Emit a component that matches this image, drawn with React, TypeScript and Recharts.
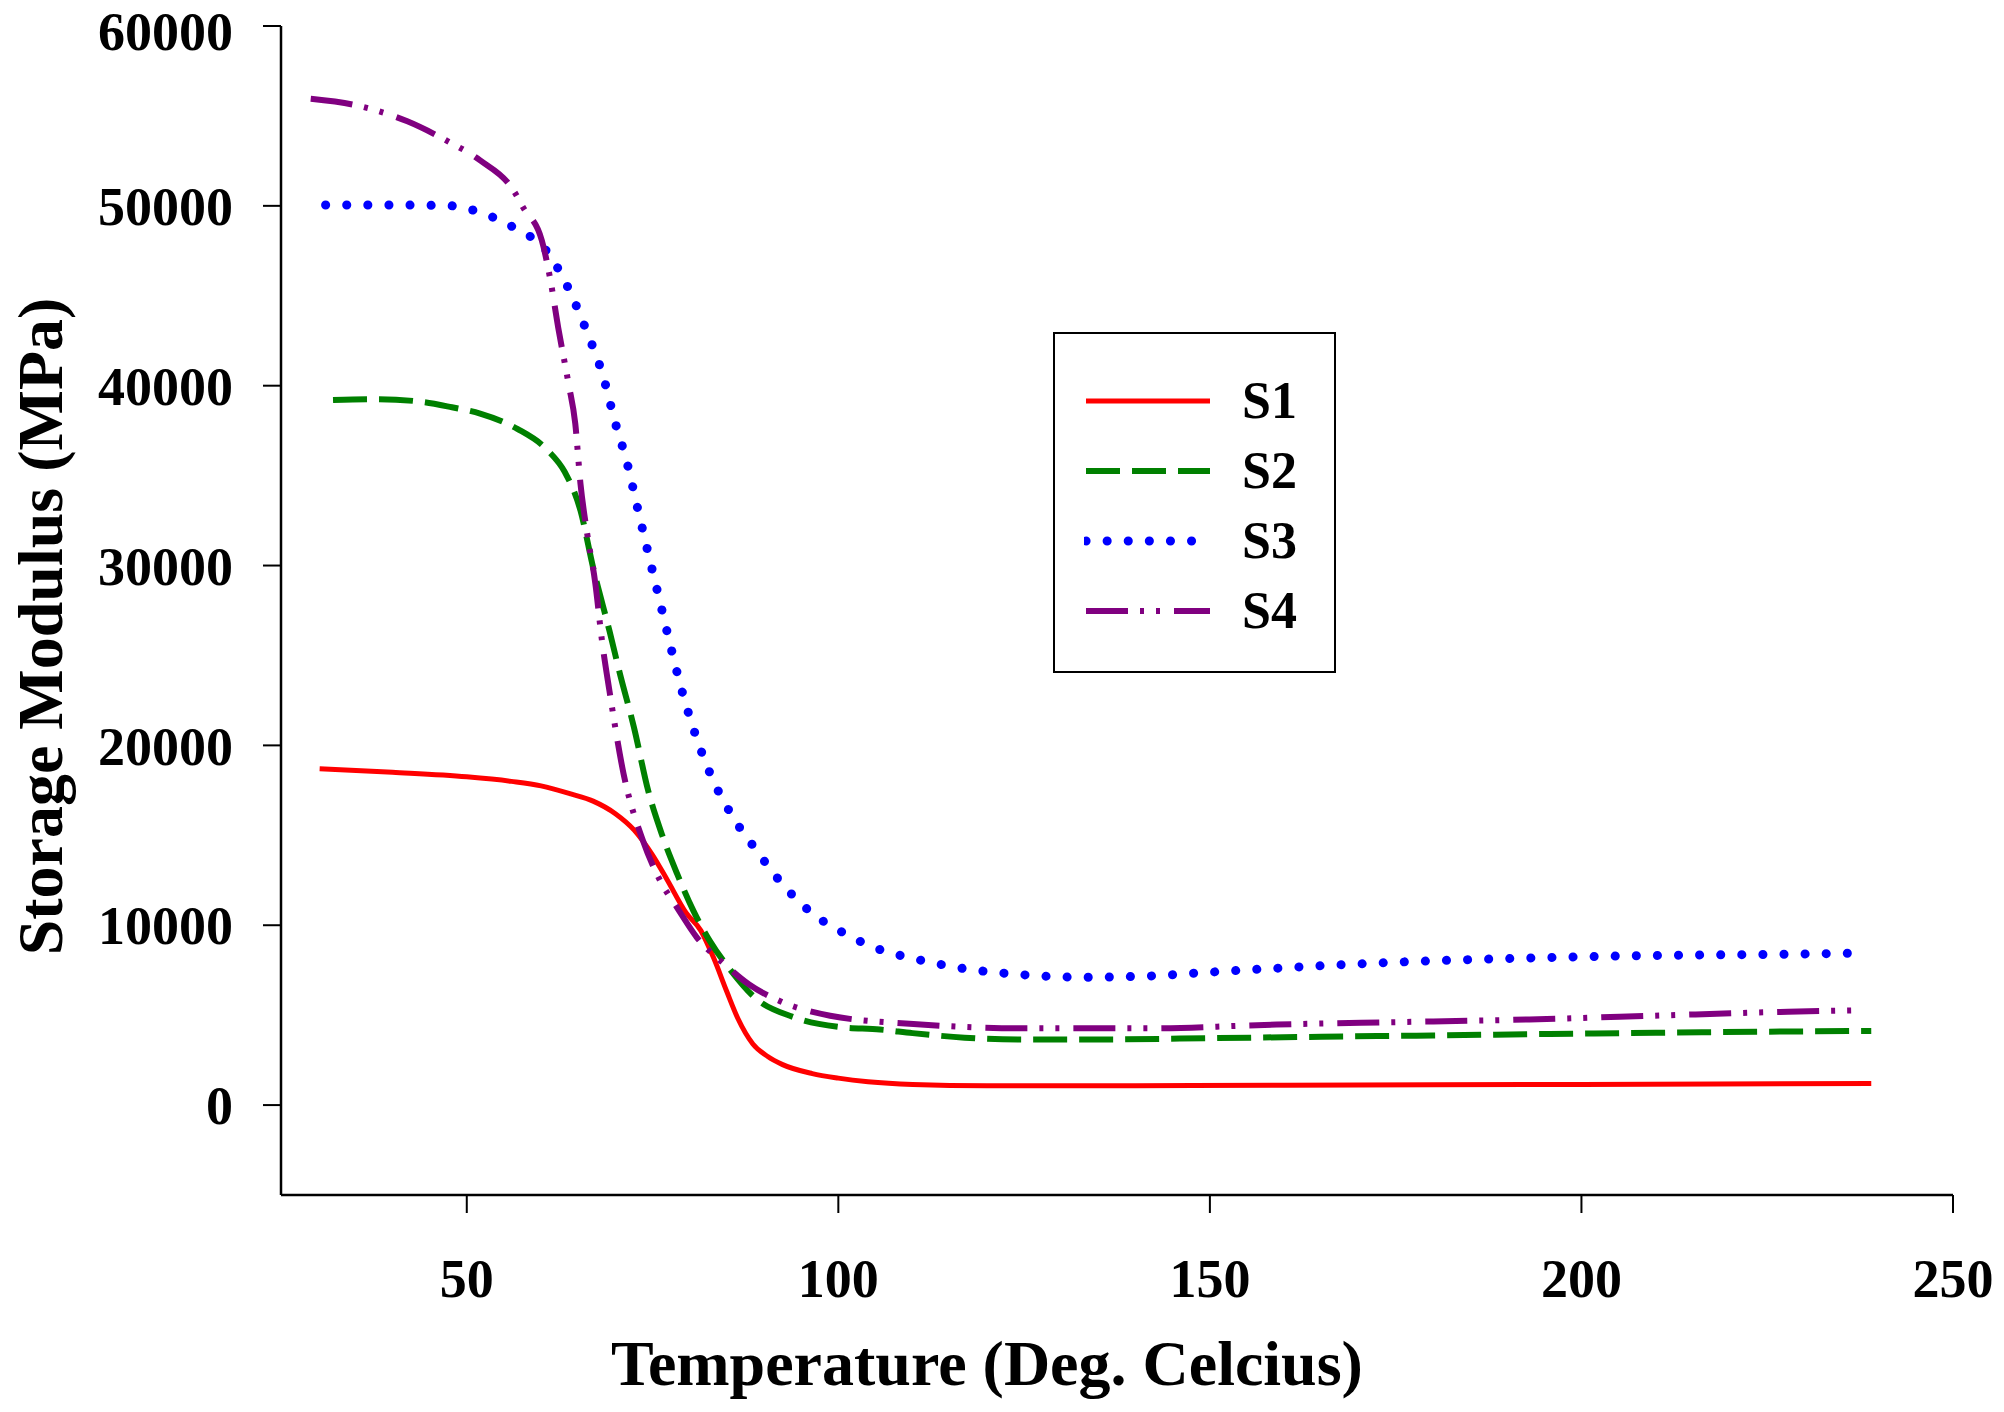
import { LineChart, Line, XAxis, YAxis, Legend, Label } from 'recharts';

// storage modulus (MPa) vs temperature (deg C)
const s1 = [
    { t: 30.2, e: 18700 }, { t: 40, e: 18500 }, { t: 50, e: 18250 }, { t: 56, e: 18000 },
    { t: 60, e: 17750 }, { t: 64, e: 17300 }, { t: 67, e: 16900 }, { t: 70, e: 16200 },
    { t: 72.5, e: 15300 }, { t: 75, e: 13900 }, { t: 77, e: 12500 }, { t: 79.5, e: 10700 },
    { t: 81.5, e: 9700 }, { t: 83.2, e: 8200 }, { t: 85, e: 6300 }, { t: 86.5, e: 4800 },
    { t: 88.5, e: 3400 }, { t: 90.5, e: 2700 }, { t: 92.5, e: 2250 }, { t: 96.5, e: 1750 },
    { t: 100, e: 1500 }, { t: 104, e: 1300 }, { t: 110, e: 1150 }, { t: 120, e: 1080 },
    { t: 140, e: 1080 }, { t: 160, e: 1100 }, { t: 200, e: 1150 }, { t: 239, e: 1200 },
];

const s2 = [
    { t: 32, e: 39200 }, { t: 38, e: 39250 }, { t: 44, e: 39100 }, { t: 48, e: 38800 },
    { t: 51.8, e: 38450 }, { t: 56.8, e: 37600 }, { t: 60.9, e: 36400 }, { t: 63.2, e: 35190 },
    { t: 65.3, e: 33060 }, { t: 67, e: 29890 }, { t: 69.2, e: 26370 }, { t: 70.6, e: 24000 },
    { t: 72.5, e: 21000 }, { t: 74.4, e: 17500 }, { t: 76.3, e: 15000 }, { t: 78.3, e: 12870 },
    { t: 80.5, e: 10800 }, { t: 82.7, e: 9130 }, { t: 85.5, e: 7500 }, { t: 88.7, e: 6000 },
    { t: 93.9, e: 4900 }, { t: 100, e: 4350 }, { t: 105.6, e: 4200 }, { t: 110, e: 4000 },
    { t: 117, e: 3750 }, { t: 125, e: 3650 }, { t: 135, e: 3650 }, { t: 150, e: 3720 },
    { t: 165, e: 3800 }, { t: 180, e: 3870 }, { t: 195, e: 3950 }, { t: 210, e: 4020 },
    { t: 225, e: 4080 }, { t: 239, e: 4120 },
];

const s3 = [
    { t: 31, e: 50050 }, { t: 40, e: 50050 }, { t: 48, e: 50000 }, { t: 51.8, e: 49630 },
    { t: 56.3, e: 48800 }, { t: 60.9, e: 47400 }, { t: 63.7, e: 45390 }, { t: 66.2, e: 42960 },
    { t: 68.4, e: 40450 }, { t: 69.9, e: 38060 }, { t: 71.6, e: 35660 }, { t: 73, e: 33160 },
    { t: 74.4, e: 30710 }, { t: 75.8, e: 28320 }, { t: 77.2, e: 25900 }, { t: 78.7, e: 23420 },
    { t: 80.5, e: 20930 }, { t: 82.7, e: 18480 }, { t: 85.7, e: 16090 }, { t: 89, e: 14150 },
    { t: 92.1, e: 12470 }, { t: 96.4, e: 10690 }, { t: 100.9, e: 9530 }, { t: 105.3, e: 8690 },
    { t: 110.3, e: 8130 }, { t: 116, e: 7650 }, { t: 124.7, e: 7250 }, { t: 133, e: 7110 },
    { t: 142, e: 7180 }, { t: 150, e: 7390 }, { t: 159, e: 7610 }, { t: 176, e: 7960 },
    { t: 193, e: 8180 }, { t: 210, e: 8320 }, { t: 228, e: 8390 }, { t: 238.5, e: 8460 },
];

const s4 = [
    { t: 29, e: 55950 }, { t: 35, e: 55600 }, { t: 42, e: 54700 }, { t: 47.4, e: 53600 },
    { t: 51.8, e: 52530 }, { t: 56.3, e: 50850 }, { t: 57.6, e: 49900 }, { t: 60.1, e: 48070 },
    { t: 61.2, e: 46000 }, { t: 62.3, e: 43240 }, { t: 63.7, e: 40100 }, { t: 64.6, e: 37890 },
    { t: 65.3, e: 34550 }, { t: 66.2, e: 31780 }, { t: 67.3, e: 29000 }, { t: 68.2, e: 25800 },
    { t: 69.2, e: 23030 }, { t: 71.1, e: 18420 }, { t: 73.7, e: 14710 }, { t: 76, e: 12500 },
    { t: 78.3, e: 10980 }, { t: 81, e: 9300 }, { t: 84.5, e: 7900 }, { t: 88, e: 6700 },
    { t: 92.1, e: 5790 }, { t: 98.9, e: 4970 }, { t: 110.1, e: 4510 }, { t: 125, e: 4270 },
    { t: 142, e: 4270 }, { t: 159, e: 4480 }, { t: 176, e: 4620 }, { t: 193, e: 4760 },
    { t: 210.6, e: 4980 }, { t: 227.8, e: 5190 }, { t: 236.4, e: 5260 },
];

const xTicks = [50, 100, 150, 200, 250];
const yTicks = [0, 10000, 20000, 30000, 40000, 50000, 60000];

const series = [
    { name: 'S1', data: s1, color: '#ff0000', width: 5, dash: undefined, cap: 'butt' },
    { name: 'S2', data: s2, color: '#008000', width: 6, dash: '34 12', cap: 'butt' },
    { name: 'S3', data: s3, color: '#0000ff', width: 9, dash: '0.1 21', cap: 'round' },
    { name: 'S4', data: s4, color: '#800080', width: 6, dash: '42 12 4 12 4 14', cap: 'butt' },
];

const FONT = '"Liberation Serif", "Times New Roman", serif';
const tickStyle = { fill: '#000', fontSize: 54, fontWeight: 'bold', fontFamily: FONT };
const axisLine = { stroke: '#000', strokeWidth: 2.5 };

function LegendBox() {
    return (
        <div style={{
            width: 283, height: 341, boxSizing: 'border-box', border: '2.5px solid #000',
            background: '#fff', paddingTop: 32, fontFamily: FONT,
        }}>
            {series.map(s => (
                <div key={s.name} style={{ height: 70, display: 'flex', alignItems: 'center' }}>
                    <svg width={128} height={14} style={{ marginLeft: 29, marginRight: 30 }}>
                        <line x1={2} y1={7} x2={126} y2={7} stroke={s.color} strokeWidth={s.width}
                            strokeDasharray={s.dash} strokeLinecap={s.cap as any} />
                    </svg>
                    <span style={{ fontSize: 52, fontWeight: 'bold', color: '#000', lineHeight: 1 }}>{s.name}</span>
                </div>
            ))}
        </div>
    );
}

export default function App() {
    return (
        <div style={{ position: 'absolute', left: 0, top: 0, background: '#fff' }}>
            <LineChart width={2004} height={1412} margin={{ top: 26, right: 51, left: 0, bottom: 0 }}>
                <XAxis
                    type="number"
                    dataKey="t"
                    domain={[25, 250]}
                    ticks={xTicks}
                    allowDataOverflow
                    height={217}
                    tick={tickStyle}
                    tickSize={18}
                    tickMargin={46}
                    axisLine={axisLine}
                    tickLine={{ stroke: '#000', strokeWidth: 2 }}
                >
                    <Label content={({ viewBox }: any) => (
                        <text x={viewBox.x + viewBox.width / 2 - 130} y={viewBox.y + 190} textAnchor="middle"
                            fontFamily={FONT} fontWeight="bold" fontSize={64} fill="#000">
                            Temperature (Deg. Celcius)
                        </text>
                    )} />
                </XAxis>
                <XAxis xAxisId="top" orientation="top" type="number" domain={[25, 250]} height={0}
                    ticks={[]} tick={false} tickLine={false} axisLine={axisLine} />
                <YAxis
                    type="number"
                    domain={[-5000, 60000]}
                    ticks={yTicks}
                    allowDataOverflow
                    width={281}
                    tick={tickStyle}
                    tickSize={18}
                    tickMargin={30}
                    axisLine={axisLine}
                    tickLine={{ stroke: '#000', strokeWidth: 2 }}
                >
                    <Label content={({ viewBox }: any) => {
                        const cx = viewBox.x + 40;
                        const cy = viewBox.y + viewBox.height / 2 + 16;
                        return (
                            <text x={cx} y={cy} textAnchor="middle" dominantBaseline="central"
                                transform={`rotate(-90 ${cx} ${cy})`}
                                fontFamily={FONT} fontWeight="bold" fontSize={64} fill="#000">
                                Storage Modulus (MPa)
                            </text>
                        );
                    }} />
                </YAxis>
                <YAxis yAxisId="right" orientation="right" type="number" domain={[-5000, 60000]} width={0}
                    ticks={[]} tick={false} tickLine={false} axisLine={axisLine} />
                <Legend
                    layout="horizontal"
                    align="center"
                    verticalAlign="middle"
                    content={() => <LegendBox />}
                    wrapperStyle={{ left: 1053, top: 332, width: 283, height: 341 }}
                />
                {series.map(s => (
                    <Line
                        key={s.name}
                        name={s.name}
                        data={s.data}
                        dataKey="e"
                        type="monotone"
                        stroke={s.color}
                        strokeWidth={s.width}
                        strokeDasharray={s.dash}
                        strokeLinecap={s.cap as any}
                        dot={false}
                        activeDot={false}
                        isAnimationActive={false}
                    />
                ))}
            </LineChart>
        </div>
    );
}
